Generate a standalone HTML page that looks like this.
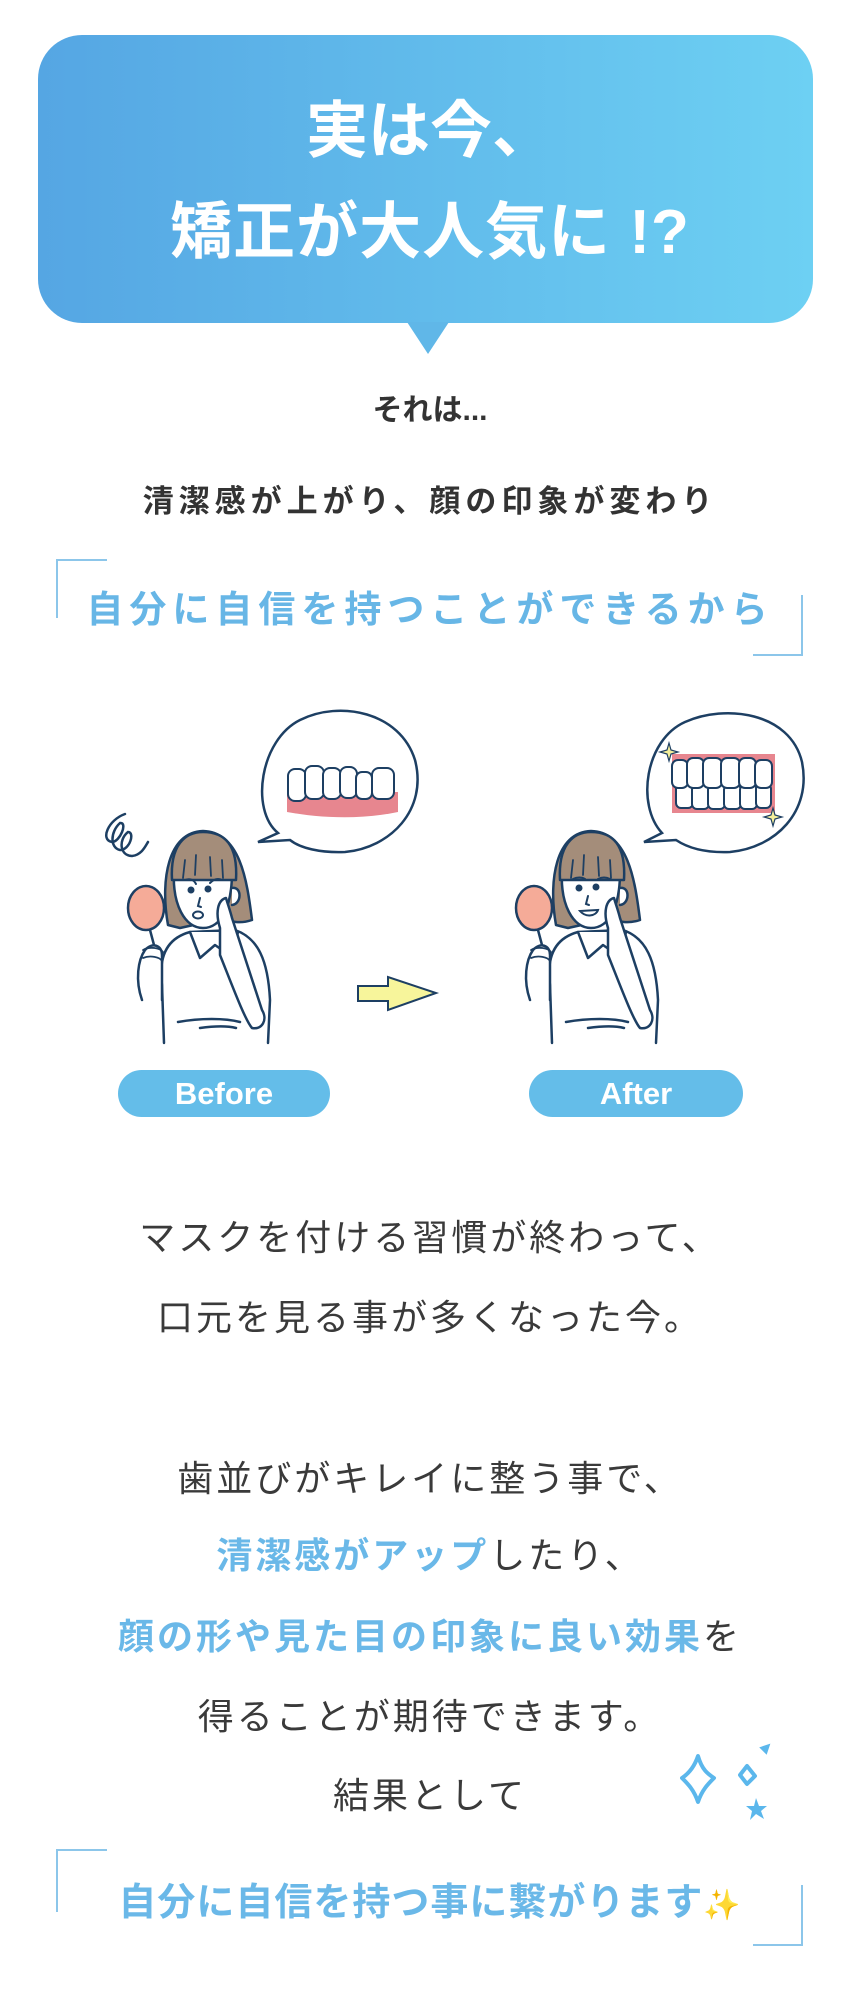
<!DOCTYPE html>
<html><head><meta charset="utf-8">
<style>
html,body{margin:0;padding:0;background:#fff;}
body{width:860px;height:1992px;position:relative;overflow:hidden;font-family:"Liberation Sans","Noto Sans CJK JP",sans-serif;}
.t{position:absolute;left:0;width:860px;text-align:center;white-space:nowrap;line-height:1;}
.bubble{position:absolute;left:38px;top:35px;width:775px;height:288px;border-radius:44px;background:linear-gradient(90deg,#55a6e3,#6dd0f3);}
.tail{position:absolute;left:407px;top:322px;width:0;height:0;border-left:21px solid transparent;border-right:21px solid transparent;border-top:32px solid #60b7e8;}
.h{color:#fff;font-weight:bold;font-size:62px;}
.dark{color:#333;font-weight:bold;}
.blue{color:#67b6e6;}
.body{color:#3a3a3a;font-size:36px;letter-spacing:3px;}
.b{color:#6ab8e8;font-weight:bold;}
.br{position:absolute;border-color:#8cc6ea;border-style:solid;border-width:0;}
</style></head><body>
<div class="bubble"></div><div class="tail"></div>
<div class="t h" style="top:101px;">実は今、</div>
<div class="t h" style="top:202px;letter-spacing:1px;">矯正が大人気に !?</div>
<div class="t dark" style="top:396px;font-size:30px;">それは...</div>
<div class="t dark" style="top:486px;font-size:31px;letter-spacing:5px;">清潔感が上がり、顔の印象が変わり</div>
<div class="br" style="left:56px;top:559px;width:49px;height:57px;border-left-width:2px;border-top-width:2px;"></div>
<div class="br" style="left:753px;top:595px;width:48px;height:59px;border-right-width:2px;border-bottom-width:2px;"></div>
<div class="t blue" style="top:591px;font-size:37px;letter-spacing:6px;font-weight:bold;">自分に自信を持つことができるから</div>

<svg style="position:absolute;left:0;top:0" width="860" height="1200" viewBox="0 0 860 1200">
<defs>
<g id="woman" stroke="#1d3f63" stroke-width="2.5" stroke-linejoin="round" stroke-linecap="round">
 <path d="M168,925 C160,880 168,832 203,831 C240,832 247,880 252,920 C240,924 230,922 225,918 L180,928 Z" fill="#a48d7a"/>
 <path d="M164,1043 L162,985 C158,955 168,938 190,932 L235,930 C258,938 268,960 270,1000 L268,1043" fill="#fff"/>
 <path d="M190,932 L200,958 L215,945 L232,957 L238,932" fill="#fff"/>
 <path d="M178,1022 C200,1018 225,1018 240,1022 M200,1028 C215,1026 228,1026 236,1028" fill="none"/>
 <path d="M174,870 C172,905 185,928 203,928 C222,928 232,905 232,872 Z" fill="#fff"/>
 <path d="M172,880 C170,845 185,832 203,832 C225,832 238,845 236,880 Z" fill="#a48d7a"/>
 <path d="M185,860 L183,878 M196,855 L195,875 M210,857 L211,876 M222,860 L223,878" fill="none" stroke-width="1.8"/>
 <path d="M232,888 C242,886 242,904 232,905" fill="#fff"/>
 <ellipse cx="146" cy="908" rx="18" ry="22" fill="#f5ab98"/>
 <path d="M150,930 L154,945" fill="none"/>
 <path d="M142,1000 C135,980 138,960 145,950 C152,942 162,945 162,955 L162,1000" fill="#fff"/>
 <path d="M143,950 C150,946 160,948 163,952 M143,958 C150,955 160,957 162,961" fill="none" stroke-width="1.8"/>
 <path d="M220,928 C215,912 218,900 226,898 C228,905 230,910 232,918 L262,1010 C268,1020 262,1030 252,1028 C245,1020 232,985 220,955 Z" fill="#fff"/>
</g>
</defs>
<path d="M125,814 C108,820 100,840 112,842 C120,842 128,822 120,823 C110,832 110,848 120,850 C130,850 135,832 128,832 C118,840 120,856 132,856 C142,855 146,845 148,842" fill="none" stroke="#1d3f63" stroke-width="2.5" stroke-linecap="round"/>
<path d="M278,833 C250,810 260,740 300,720 C340,700 400,712 415,760 C428,810 390,848 345,852 C320,853 300,848 290,840 L258,842 Z" fill="#fff" stroke="#1d3f63" stroke-width="2.5"/>
<path d="M287,792 L398,792 L398,812 C360,820 320,818 287,812 Z" fill="#e7868f"/>
<g fill="#fff" stroke="#1d3f63" stroke-width="2">
<rect x="288" y="769" width="18" height="32" rx="7"/>
<rect x="305" y="766" width="19" height="33" rx="7"/>
<rect x="323" y="768" width="18" height="31" rx="7"/>
<rect x="340" y="767" width="17" height="31" rx="7"/>
<rect x="356" y="772" width="16" height="27" rx="6"/>
<rect x="372" y="768" width="22" height="31" rx="7"/>
</g>
<use href="#woman"/>
<g stroke="#1d3f63" stroke-width="2" fill="none" stroke-linecap="round">
<path d="M185,880 C190,878 194,880 196,884 M210,883 C214,879 218,878 222,880"/>
<circle cx="191" cy="890" r="2.5" fill="#1d3f63"/><circle cx="208" cy="889" r="2.5" fill="#1d3f63"/>
<path d="M200,898 L198,906 L201,907"/>
<ellipse cx="198" cy="915" rx="5" ry="3.5" fill="#fff"/>
</g>
<path d="M358,986 L388,986 L388,977 L436,993 L388,1010 L388,1001 L358,1001 Z" fill="#f7f59b" stroke="#1d3f63" stroke-width="2"/>
<path d="M662,833 C636,805 645,740 685,722 C725,704 790,712 802,762 C812,812 775,848 730,852 C705,853 688,848 676,840 L644,842 Z" fill="#fff" stroke="#1d3f63" stroke-width="2.5"/>
<rect x="672" y="754" width="103" height="59" fill="#e7868f"/>
<g fill="#fff" stroke="#1d3f63" stroke-width="2">
<rect x="676" y="784" width="17" height="24" rx="5"/><rect x="692" y="785" width="17" height="24" rx="5"/><rect x="708" y="785" width="17" height="24" rx="5"/><rect x="724" y="785" width="17" height="24" rx="5"/><rect x="740" y="785" width="17" height="24" rx="5"/><rect x="756" y="784" width="15" height="24" rx="5"/>
<rect x="672" y="760" width="16" height="28" rx="6"/><rect x="687" y="758" width="17" height="30" rx="6"/><rect x="703" y="758" width="19" height="30" rx="6"/><rect x="721" y="758" width="19" height="30" rx="6"/><rect x="739" y="758" width="17" height="30" rx="6"/><rect x="755" y="760" width="17" height="28" rx="6"/>
</g>
<path d="M669,743 L671,750 L678,752 L671,754 L669,761 L667,754 L660,752 L667,750 Z" fill="#f4ef9a" stroke="#1d3f63" stroke-width="1.2"/>
<path d="M773,808 L775,815 L782,817 L775,819 L773,826 L771,819 L764,817 L771,815 Z" fill="#f4ef9a" stroke="#1d3f63" stroke-width="1.2"/>
<use href="#woman" transform="translate(388,0)"/>
<g stroke="#1d3f63" stroke-width="2" fill="none" stroke-linecap="round">
<path d="M573,879 C577,877 582,877 585,879 M598,879 C602,877 606,877 610,879"/>
<circle cx="579" cy="888" r="2.5" fill="#1d3f63"/><circle cx="596" cy="887" r="2.5" fill="#1d3f63"/>
<path d="M588,896 L586,904 L589,905"/>
<path d="M580,911 C586,918 596,916 598,910 Z" fill="#fff"/>
</g>
</svg>
<div style="position:absolute;left:118px;top:1070px;width:212px;height:47px;border-radius:24px;background:#64bde9;color:#fff;font-size:31px;font-weight:bold;text-align:center;line-height:47px;">Before</div>
<div style="position:absolute;left:529px;top:1070px;width:214px;height:47px;border-radius:24px;background:#64bde9;color:#fff;font-size:31px;font-weight:bold;text-align:center;line-height:47px;">After</div>

<div class="t body" style="top:1220px;">マスクを付ける習慣が終わって、</div>
<div class="t body" style="top:1300px;">口元を見る事が多くなった今。</div>
<div class="t body" style="top:1461px;">歯並びがキレイに整う事で、</div>
<div class="t body" style="top:1538px;"><span class="b">清潔感がアップ</span>したり、</div>
<div class="t body" style="top:1619px;"><span class="b">顔の形や見た目の印象に良い効果</span>を</div>
<div class="t body" style="top:1699px;">得ることが期待できます。</div>
<div class="t body" style="top:1778px;">結果として</div>
<svg style="position:absolute;left:680px;top:1740px" width="100" height="100" viewBox="0 0 100 100">
<g fill="none" stroke="#5bb7ec" stroke-width="4" stroke-linejoin="round">
<path d="M18,16 C22,30 28,34 34,38 C28,44 22,50 18,62 C14,50 8,44 2,38 C8,34 14,28 18,16 Z"/>
<path d="M67,26 L75,36 L67,44 L60,35 Z"/>
</g>
<path d="M82,8 L88,6 L86,12 Z" fill="#5bb7ec" stroke="#5bb7ec" stroke-width="3"/>
<path d="M76,58 L79,66 L87,66 L81,71 L84,79 L76,74 L70,80 L72,71 L66,66 L74,66 Z" fill="#5bb7ec"/>
</svg>
<div class="br" style="left:56px;top:1849px;width:49px;height:61px;border-left-width:2px;border-top-width:2px;"></div>
<div class="br" style="left:753px;top:1885px;width:48px;height:59px;border-right-width:2px;border-bottom-width:2px;"></div>
<div class="t b" style="top:1884px;font-size:38px;letter-spacing:1px;">自分に自信を持つ事に繋がります<span style="color:#f3d35a;font-size:30px;">✨</span></div>
</body></html>
